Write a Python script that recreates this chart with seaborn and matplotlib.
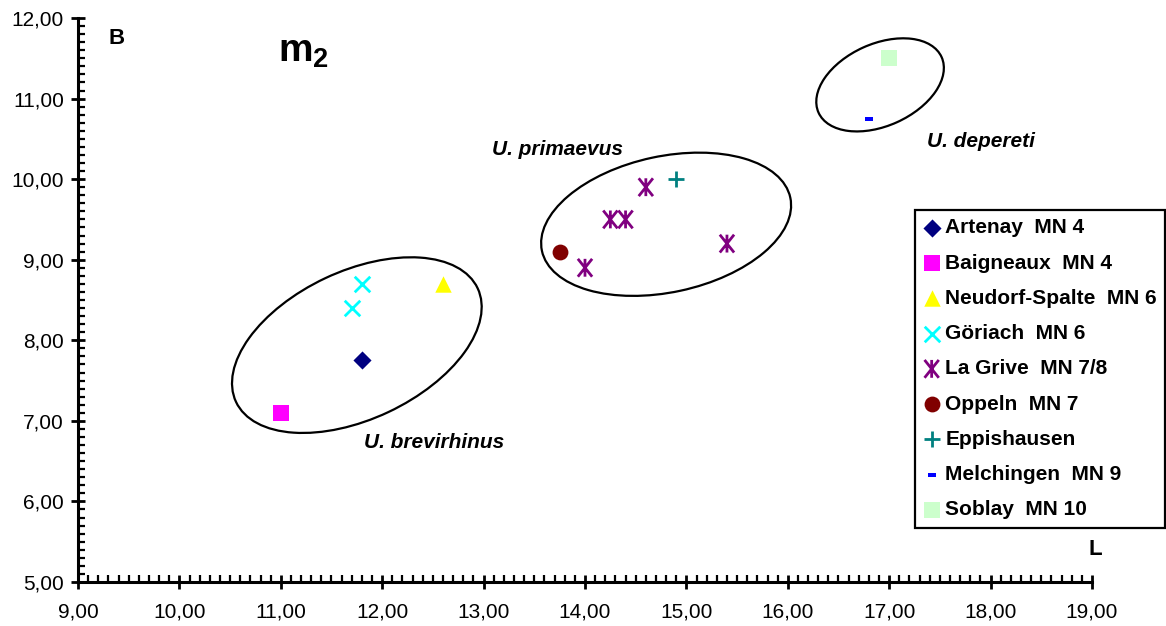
import numpy as np
import matplotlib
matplotlib.use("Agg")
import matplotlib.pyplot as plt
import matplotlib.transforms as mtransforms
from matplotlib.patches import Ellipse
from matplotlib.path import Path
from matplotlib.markers import MarkerStyle
from matplotlib.ticker import MultipleLocator, FuncFormatter
import seaborn as sns

# ---------------- data ----------------
artenay_L = [11.8]
artenay_B = [7.75]
baigneaux_L = [11.0]
baigneaux_B = [7.10]
neudorf_L = [12.6]
neudorf_B = [8.70]
goriach_L = [11.8, 11.7]
goriach_B = [8.70, 8.40]
lagrive_L = [14.6, 14.25, 14.4, 14.0, 15.4]
lagrive_B = [9.90, 9.50, 9.50, 8.90, 9.20]
oppeln_L = [13.75]
oppeln_B = [9.10]
eppis_L = [14.9]
eppis_B = [10.00]
melch_L = [16.8]
melch_B = [10.75]
soblay_L = [17.0]
soblay_B = [11.50]

series_labels = ["Artenay  MN 4", "Baigneaux  MN 4", "Neudorf-Spalte  MN 6",
                 "Göriach  MN 6", "La Grive  MN 7/8", "Oppeln  MN 7",
                 "Eppishausen", "Melchingen  MN 9", "Soblay  MN 10"]
species_labels = ["U. brevirhinus", "U. primaevus", "U. depereti"]

# ---------------- style ----------------
sns.set_style("ticks")
plt.rcParams["font.family"] = ["Liberation Sans", "DejaVu Sans"]
plt.rcParams["mathtext.fontset"] = "custom"
plt.rcParams["mathtext.bf"] = "Liberation Sans:bold"
plt.rcParams["mathtext.rm"] = "Liberation Sans"
plt.rcParams["text.color"] = "black"
plt.rcParams["xtick.color"] = "black"
plt.rcParams["ytick.color"] = "black"
plt.rcParams["axes.labelcolor"] = "black"

DPI = 100
fig = plt.figure(figsize=(11.66, 6.26), dpi=DPI)
ax = fig.add_axes([78 / 1166, 44 / 626, 1014 / 1166, 564 / 626])

star_path = Path([(-0.8, -1), (0.8, 1), (-0.8, 1), (0.8, -1), (0, -1), (0, 1)],
                 [Path.MOVETO, Path.LINETO, Path.MOVETO, Path.LINETO, Path.MOVETO, Path.LINETO])
star_marker = MarkerStyle(star_path, fillstyle="none")
dash_path = Path([(-1, -0.45), (1, -0.45), (1, 0.45), (-1, 0.45), (-1, -0.45)],
                 [Path.MOVETO, Path.LINETO, Path.LINETO, Path.LINETO, Path.CLOSEPOLY])

specs = [
    (artenay_L, artenay_B, "D", "#000080", 85, True),
    (baigneaux_L, baigneaux_B, "s", "#FF00FF", 125, True),
    (neudorf_L, neudorf_B, "^", "#FFFF00", 140, True),
    (goriach_L, goriach_B, "x", "#00FFFF", 125, False),
    (lagrive_L, lagrive_B, star_marker, "#800080", 165, False),
    (oppeln_L, oppeln_B, "o", "#800000", 130, True),
    (eppis_L, eppis_B, "+", "#008080", 140, False),
    (melch_L, melch_B, dash_path, "#0000FF", 28, True),
    (soblay_L, soblay_B, "s", "#CCFFCC", 135, True),
]

for (xs, ys, mk, col, size, filled), lab in zip(specs, series_labels):
    if filled:
        sns.scatterplot(x=xs, y=ys, marker=mk, color=col, s=size, edgecolor=col,
                        linewidth=0, label=lab, ax=ax, zorder=3)
    else:
        sns.scatterplot(x=xs, y=ys, marker=mk, color=col, s=size, edgecolor=col,
                        linewidth=2.0, label=lab, ax=ax, zorder=3)

# ---------------- axes ----------------
ax.set_xlim(9, 19)
ax.set_ylim(5, 12)
ax.xaxis.set_major_locator(MultipleLocator(1))
ax.xaxis.set_minor_locator(MultipleLocator(0.1))
ax.yaxis.set_major_locator(MultipleLocator(1))
ax.yaxis.set_minor_locator(MultipleLocator(0.1))
fmt = FuncFormatter(lambda v, p: f"{v:.2f}".replace(".", ","))
ax.xaxis.set_major_formatter(fmt)
ax.yaxis.set_major_formatter(fmt)
ax.tick_params(which="major", direction="inout", length=10, width=2.0, labelsize=15,
               colors="black")
ax.tick_params(which="minor", direction="in", length=5, width=1.6, colors="black")
ax.tick_params(axis="x", which="major", pad=10)
ax.tick_params(axis="y", which="major", pad=5)
for s in ["top", "right"]:
    ax.spines[s].set_visible(False)
for s in ["left", "bottom"]:
    ax.spines[s].set_linewidth(2.2)
    ax.spines[s].set_color("black")
ax.set_xlabel("")
ax.set_ylabel("")

# ---------------- ellipses (size in pixels, center in data) ----------------
ellipses = [
    ((11.75, 7.94), 267, 148, 25.2),
    ((14.80, 9.44), 254, 136, 12.1),
    ((16.91, 11.17), 135, 82, 24.3),
]
for (cx, cy), w, h, ang in ellipses:
    tr = fig.dpi_scale_trans + mtransforms.ScaledTranslation(cx, cy, ax.transData)
    e = Ellipse((0, 0), w / DPI, h / DPI, angle=ang, transform=tr,
                fill=False, edgecolor="black", linewidth=1.6, zorder=2)
    ax.add_patch(e)

# ---------------- texts ----------------
ax.text(12.51, 6.73, species_labels[0], fontsize=15, fontweight="bold", style="italic",
        ha="center", va="center")
ax.text(13.73, 10.37, species_labels[1], fontsize=15, fontweight="bold", style="italic",
        ha="center", va="center")
ax.text(17.90, 10.47, species_labels[2], fontsize=15, fontweight="bold", style="italic",
        ha="center", va="center")
ax.text(9.38, 11.75, "B", fontsize=16, fontweight="bold", ha="center", va="center")
ax.text(11.22, 11.58, r"$\mathbf{m}_{\mathbf{2}}$", fontsize=28, ha="center", va="center")
ax.text(19.03, 5.40, "L", fontsize=16, fontweight="bold", ha="center", va="center",
        clip_on=False)

# ---------------- legend ----------------
leg = ax.legend(loc="upper left", bbox_to_anchor=(915 / 1166, 1 - 210 / 626),
                bbox_transform=fig.transFigure, frameon=True, fancybox=False,
                edgecolor="black", framealpha=1, prop={"size": 15, "weight": "bold"},
                handlelength=0.8, handletextpad=0.25, borderpad=0.4,
                labelspacing=0.78, borderaxespad=0)
leg.get_frame().set_linewidth(1.6)
for t in leg.get_texts():
    t.set_color("black")

fig.savefig("out.png", dpi=DPI, facecolor="white")
